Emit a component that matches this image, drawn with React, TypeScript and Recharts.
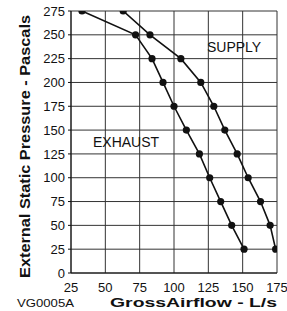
import React from "react";
import { LineChart, Line, XAxis, YAxis, CartesianGrid } from "recharts";

// pressure steps (Pa) shared by both curves
const pressure = [25, 50, 75, 100, 125, 150, 175, 200, 225, 250, 275];
// airflow (L/s), one per pressure step
const exhaustFlow = [151, 142, 134, 126, 118.5, 109, 100, 92, 84, 72, 33];
const supplyFlow = [174, 170, 163, 154, 146, 137, 129, 119.5, 105, 82.5, 63];

const xTicks = [25, 50, 75, 100, 125, 150, 175];
const yTicks = [0, 25, 50, 75, 100, 125, 150, 175, 200, 225, 250, 275];

const exhaustData = pressure.map((p, i) => ({ flow: exhaustFlow[i], pa: p }));
const supplyData = pressure.map((p, i) => ({ flow: supplyFlow[i], pa: p }));

const FONT = "'Liberation Sans', Arial, Helvetica, sans-serif";
const tickStyle = { fill: "#111", fontSize: 13, fontFamily: FONT };

export default function App() {
  return (
    <div style={{ position: "absolute", left: 0, top: 0, width: 287, height: 311, background: "#fff" }}>
      <LineChart width={287} height={311} margin={{ top: 11, right: 10, left: 0, bottom: 0 }}>
        <CartesianGrid stroke="#333" strokeWidth={1} />
        <XAxis
          type="number"
          dataKey="flow"
          domain={[25, 175]}
          ticks={xTicks}
          allowDataOverflow
          height={38}
          axisLine={{ stroke: "#111" }}
          tickLine={false}
          tickMargin={4}
          tick={tickStyle}
          interval={0}
        />
        <YAxis
          type="number"
          dataKey="pa"
          domain={[0, 275]}
          ticks={yTicks}
          allowDataOverflow
          width={71}
          axisLine={{ stroke: "#111" }}
          tickLine={{ stroke: "#111" }}
          tickSize={3}
          tickMargin={3}
          tick={tickStyle}
          interval={0}
        />
        <Line
          data={exhaustData}
          dataKey="pa"
          type="linear"
          stroke="#111"
          strokeWidth={1.6}
          dot={{ r: 3.6, fill: "#111", stroke: "#111", strokeWidth: 0 }}
          isAnimationActive={false}
        />
        <Line
          data={supplyData}
          dataKey="pa"
          type="linear"
          stroke="#111"
          strokeWidth={1.6}
          dot={{ r: 3.6, fill: "#111", stroke: "#111", strokeWidth: 0 }}
          isAnimationActive={false}
        />
        <text x={207} y={51.5} fontSize={14} fontFamily={FONT} fill="#111">SUPPLY</text>
        <text x={93} y={146.5} fontSize={14} fontFamily={FONT} fill="#111">EXHAUST</text>
        <text
          x={0}
          y={0}
          transform="translate(29.5,146.5) rotate(-90)"
          textAnchor="middle"
          fontSize={14}
          fontWeight="bold"
          fontFamily={FONT}
          fill="#111"
          textLength={263}
          lengthAdjust="spacingAndGlyphs"
        >
          External Static Pressure - Pascals
        </text>
        <text
          x={193.5}
          y={307}
          textAnchor="middle"
          fontSize={12.5}
          fontWeight="bold"
          fontFamily={FONT}
          fill="#111"
          textLength={167}
          lengthAdjust="spacingAndGlyphs"
        >
          GrossAirflow - L/s
        </text>
        <text
          x={17}
          y={307}
          fontSize={10.5}
          fontFamily={FONT}
          fill="#111"
          textLength={57}
          lengthAdjust="spacingAndGlyphs"
        >
          VG0005A
        </text>
      </LineChart>
    </div>
  );
}
